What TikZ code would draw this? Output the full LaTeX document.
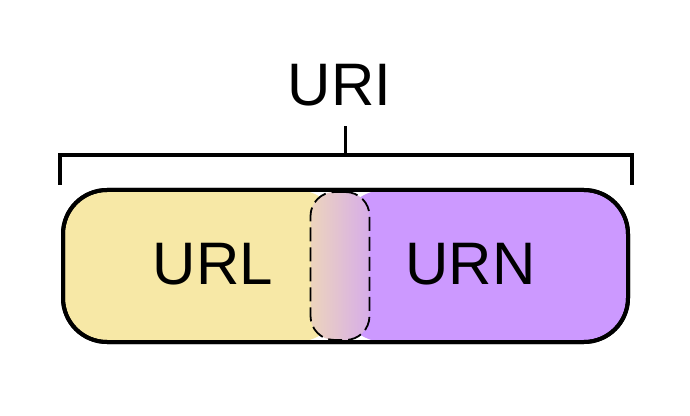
\documentclass[tikz,border=0pt]{standalone}
\usepackage{fontspec}
\setmainfont{Liberation Sans}
\usetikzlibrary{positioning}
\definecolor{urlyellow}{RGB}{247,232,166}
\definecolor{urnpurple}{RGB}{204,153,255}
\pgfdeclarehorizontalshading{urlurn}{100bp}{color(0bp)=(urlyellow); color(100bp)=(urnpurple)}
\tikzstyle{bar} = [rectangle, rounded corners=44pt, minimum width=565pt, minimum height=152pt, inner sep=0pt, outer sep=0pt, draw=black, line width=4pt]
\tikzstyle{overlap} = [rectangle, rounded corners=24pt, minimum width=59pt, minimum height=148pt, inner sep=0pt, outer sep=0pt, draw=black, dash pattern=on 14pt off 6pt, line width=1.8pt, shading=urlurn]
\tikzstyle{word} = [font=\fontsize{60}{72}\selectfont, inner sep=0pt, anchor=base]
\tikzstyle{brace} = [line width=3.5pt, draw=black]

\begin{document}
\begin{tikzpicture}[x=1pt, y=1pt]
			\useasboundingbox (0,0) rectangle (690,415);
			\node[bar, path picture={
				\fill[urlyellow] (path picture bounding box.south west) rectangle ([xshift=-5pt]path picture bounding box.north);
				\fill[urnpurple] ([xshift=-5pt]path picture bounding box.south) rectangle (path picture bounding box.north east);
			}] (uri) at (345.5,149) {};
			\node[overlap] (both) at (340,149) {};
			\draw[bar, fill=none] (uri.south west) rectangle (uri.north east);
			
			\node[word] (url) at (213,130) {URL};
			\node[word] (urn) at (470.5,130) {URN};
			
			\coordinate (left end) at ([xshift=-3pt,yshift=5pt]uri.north west);
			\coordinate (right end) at ([xshift=4pt,yshift=5pt]uri.north east);
			\coordinate (mid) at ([yshift=35pt]uri.north);
			\coordinate (top tick) at ([yshift=29pt]mid);
			\draw[brace] (left end) |- (mid) -| (right end);
			\draw[brace] (mid) -- (top tick);
			
			\node[word, anchor=south, above=20pt of top tick, xshift=-6pt] (uritext) {URI};
		\end{tikzpicture}
\end{document}
